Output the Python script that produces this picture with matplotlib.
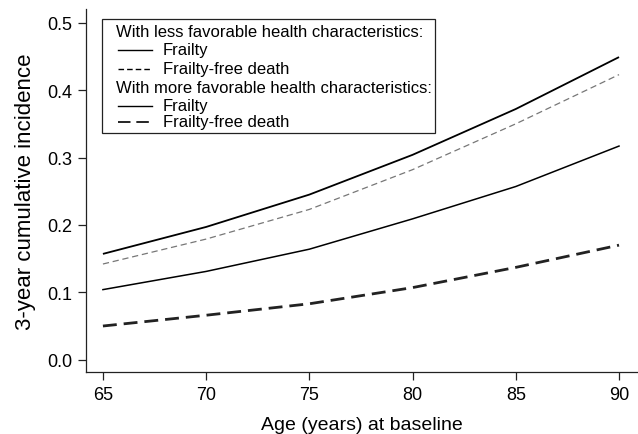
import matplotlib
matplotlib.use("Agg")
import matplotlib.pyplot as plt
from matplotlib.lines import Line2D
from matplotlib.patches import Rectangle

plt.rcParams['font.family'] = ['Liberation Sans', 'DejaVu Sans']

age = [65, 70, 75, 80, 85, 90]
# less favorable health characteristics
frailty_less = [0.157, 0.197, 0.245, 0.304, 0.372, 0.449]
ffd_less = [0.142, 0.179, 0.223, 0.282, 0.350, 0.423]
# more favorable health characteristics
frailty_more = [0.104, 0.131, 0.164, 0.209, 0.257, 0.317]
ffd_more = [0.050, 0.066, 0.083, 0.107, 0.137, 0.170]

xticks = [65, 70, 75, 80, 85, 90]
yticks = [0.0, 0.1, 0.2, 0.3, 0.4, 0.5]

fig = plt.figure(figsize=(6.38, 4.35), dpi=100)
ax = fig.add_axes([0.1348, 0.1418, 0.8636, 0.8362])

ax.plot(age, frailty_less, color='black', lw=1.3, solid_capstyle='butt')
ax.plot(age, ffd_less, color='#777777', lw=0.9, dashes=(5, 3))
ax.plot(age, frailty_more, color='black', lw=1.1)
ax.plot(age, ffd_more, color='#222222', lw=2.0, dashes=(5, 2.5))

ax.set_xlim(64.18, 90.87)
ax.set_ylim(-0.0187, 0.521)
ax.set_xticks(xticks)
ax.set_xticklabels([str(v) for v in xticks])
ax.set_yticks(yticks)
ax.set_yticklabels(['%.1f' % v for v in yticks])
ax.tick_params(direction='out', length=6, width=0.9, labelsize=13, colors='#222222',
               labelcolor='black', pad=4)
for s in ['top', 'right']:
    ax.spines[s].set_visible(False)
for s in ['left', 'bottom']:
    ax.spines[s].set_linewidth(0.9)
    ax.spines[s].set_color('#222222')

ax.set_xlabel('Age (years) at baseline', fontsize=14, labelpad=9)
ax.set_ylabel('3-year cumulative incidence', fontsize=16, labelpad=8)

# hand-drawn legend box (axes fraction coords)
tr = ax.transAxes
def fx(px):
    return (px - 86) / 551.0
def fy(py):
    return (373.3 - py) / 363.7

ax.add_patch(Rectangle((fx(102), fy(134)), fx(435) - fx(102), fy(20) - fy(134),
                       transform=tr, fill=False, ec='#222222', lw=0.9))
rows = [
    ('With less favorable health characteristics:', None, 33),
    ('Frailty', dict(color='black', lw=1.0), 51),
    ('Frailty-free death', dict(color='black', lw=1.0, dashes=(4, 2.2)), 70),
    ('With more favorable health characteristics:', None, 89),
    ('Frailty', dict(color='black', lw=1.0), 107),
    ('Frailty-free death', dict(color='black', lw=1.2, dashes=(7.5, 3.5)), 123),
]
for txt, style, py in rows:
    if style is None:
        ax.text(fx(116), fy(py), txt, transform=tr, fontsize=12, va='center', ha='left')
    else:
        ax.add_line(Line2D([fx(118), fx(152)], [fy(py), fy(py)], transform=tr, **style))
        ax.text(fx(163), fy(py), txt, transform=tr, fontsize=12, va='center', ha='left')

fig.savefig('out.png', dpi=100)
